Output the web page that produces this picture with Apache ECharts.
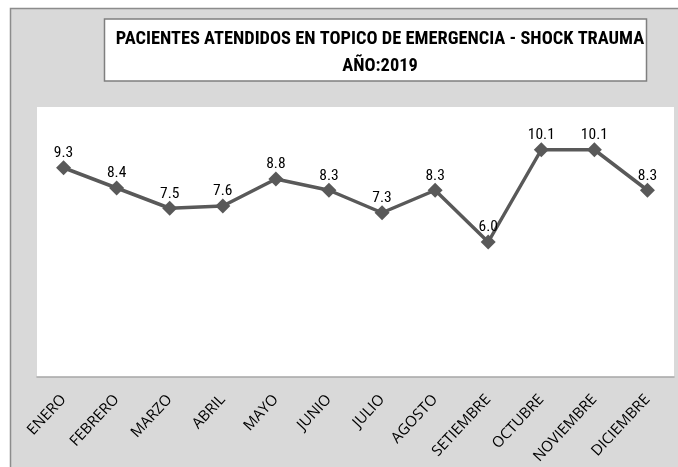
<!DOCTYPE html>
<html>
<head>
<meta charset="utf-8">
<script src="https://cdn.jsdelivr.net/npm/echarts@6/dist/echarts.min.js"></script>
<style>
  html, body { margin: 0; padding: 0; background: #fff; }
  #main { width: 678px; height: 467px; }
</style>
</head>
<body>
<div id="main"></div>
<script>
// datos del gráfico
const meses = ['ENERO', 'FEBRERO', 'MARZO', 'ABRIL', 'MAYO', 'JUNIO', 'JULIO', 'AGOSTO',
  'SETIEMBRE', 'OCTUBRE', 'NOVIEMBRE', 'DICIEMBRE'];
const pacientes = [9.3, 8.4, 7.5, 7.6, 8.8, 8.3, 7.3, 8.3, 6.0, 10.1, 10.1, 8.3];
const titulo = 'PACIENTES ATENDIDOS EN TOPICO DE EMERGENCIA - SHOCK TRAUMA\nAÑO:2019';

// Roboto condensada para títulos y valores, Open Sans para los meses
const fuente = 'Roboto, sans-serif';
const fuenteMeses = '"Open Sans", sans-serif';
const chart = echarts.init(document.getElementById('main'));

chart.setOption({
  backgroundColor: '#ffffff',
  animation: false,
  graphic: [
    {
      type: 'rect', z: -10, silent: true,
      shape: { x: 10.5, y: 8.5, width: 680, height: 470 },
      style: { fill: '#d9d9d9', stroke: '#8c8c8c', lineWidth: 1.5 }
    },
    {
      type: 'rect', z: -5, silent: true,
      shape: { x: 104.5, y: 19, width: 542, height: 62 },
      style: { fill: '#ffffff', stroke: '#7f7f7f', lineWidth: 1.5 }
    }
  ],
  title: {
    text: titulo,
    left: 375,
    top: 21,
    textAlign: 'center',
    textStyle: {
      fontFamily: fuente,
      fontWeight: 'bold condensed',
      fontSize: 18.4,
      lineHeight: 27,
      color: '#000'
    }
  },
  grid: {
    show: true,
    left: 37, right: 4, top: 107, bottom: 90,
    backgroundColor: '#ffffff',
    borderWidth: 0
  },
  xAxis: {
    type: 'category',
    data: meses,
    boundaryGap: true,
    axisLine: { lineStyle: { color: '#a6a6a6', width: 1.5 } },
    axisTick: { show: false },
    axisLabel: {
      rotate: 47,
      margin: 20,
      interval: 0,
      fontFamily: fuenteMeses,
      fontSize: 15,
      color: '#000'
    }
  },
  yAxis: {
    type: 'value',
    min: 0, max: 12,
    show: false,
    splitLine: { show: false }
  },
  series: [{
    type: 'line',
    data: pacientes,
    symbol: 'diamond',
    symbolSize: 15,
    lineStyle: { color: '#595959', width: 3.5 },
    itemStyle: { color: '#595959' },
    label: {
      show: true,
      position: 'top',
      distance: -1,
      formatter: p => p.value.toFixed(1),
      fontFamily: fuente,
      fontWeight: 'condensed',
      fontSize: 15.5,
      color: '#000'
    }
  }]
});
</script>
</body>
</html>
